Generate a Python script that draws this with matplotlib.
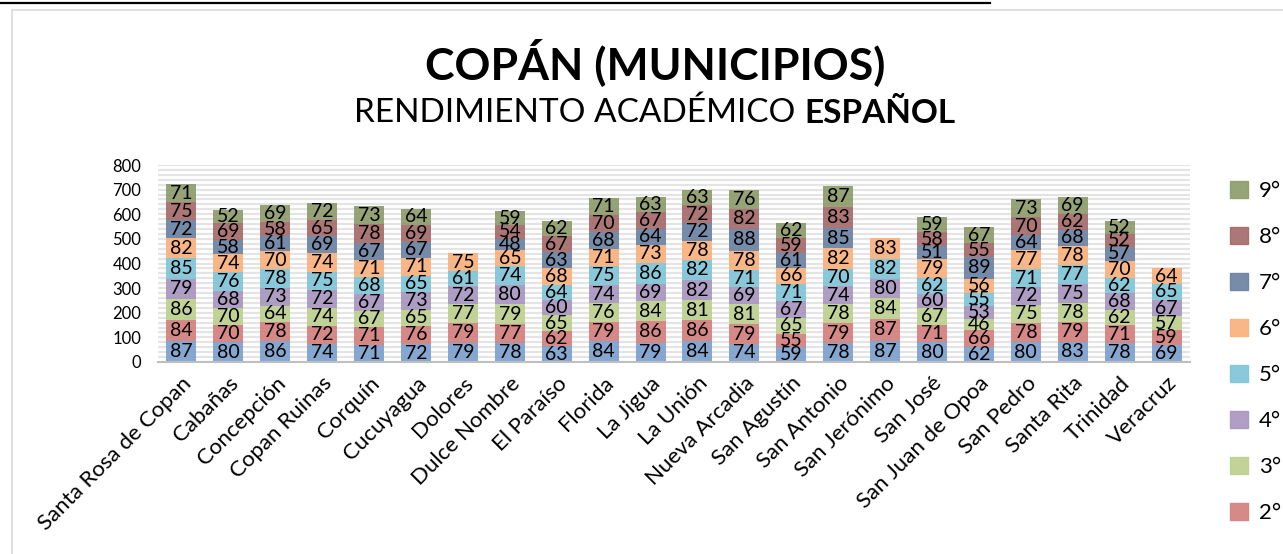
import numpy as np
import matplotlib
matplotlib.use("Agg")
import matplotlib.pyplot as plt
from matplotlib.patches import Rectangle
from matplotlib.lines import Line2D

plt.rcParams['font.family'] = ['Lato', 'DejaVu Sans']

# municipios
municipios = ["Santa Rosa de Copan", "Cabañas", "Concepción", "Copan Ruinas", "Corquín",
              "Cucuyagua", "Dolores", "Dulce Nombre", "El Paraíso", "Florida", "La Jigua",
              "La Unión", "Nueva Arcadia", "San Agustín", "San Antonio", "San Jerónimo",
              "San José", "San Juan de Opoa", "San Pedro", "Santa Rita", "Trinidad", "Veracruz"]

grados = ["1°", "2°", "3°", "4°", "5°", "6°", "7°", "8°", "9°"]

# values per grade (None = no data for that municipio)
g1 = [87, 80, 86, 74, 71, 72, 79, 78, 63, 84, 79, 84, 74, 59, 78, 87, 80, 62, 80, 83, 78, 69]
g2 = [84, 70, 78, 72, 71, 76, 79, 77, 62, 79, 86, 86, 79, 55, 79, 87, 71, 66, 78, 79, 71, 59]
g3 = [86, 70, 64, 74, 67, 65, 77, 79, 65, 76, 84, 81, 81, 65, 78, 84, 67, 46, 75, 78, 62, 57]
g4 = [79, 68, 73, 72, 67, 73, 72, 80, 60, 74, 69, 82, 69, 67, 74, 80, 60, 53, 72, 75, 68, 67]
g5 = [85, 76, 78, 75, 68, 65, 61, 74, 64, 75, 86, 82, 71, 71, 70, 82, 62, 55, 71, 77, 62, 65]
g6 = [82, 74, 70, 74, 71, 71, 75, 65, 68, 71, 73, 78, 78, 66, 82, 83, 79, 56, 77, 78, 70, 64]
g7 = [72, 58, 61, 69, 67, 67, None, 48, 63, 68, 64, 72, 88, 61, 85, None, 51, 89, 64, 68, 57, None]
g8 = [75, 69, 58, 65, 78, 69, None, 54, 67, 70, 67, 72, 82, 59, 83, None, 58, 55, 70, 62, 52, None]
g9 = [71, 52, 69, 72, 73, 64, None, 59, 62, 71, 63, 63, 76, 62, 87, None, 59, 67, 73, 69, 52, None]

series = [g1, g2, g3, g4, g5, g6, g7, g8, g9]
colores = ["#7BA0CD", "#D47F7E", "#BCD08D", "#A996C0", "#7FC5D8",
           "#F9B17D", "#6B82A2", "#A56B6B", "#8E9C6C"]

fig = plt.figure(figsize=(12.83, 5.54), dpi=100)
ax = fig.add_axes([158 / 1283, 1 - 362 / 554, (1190 - 158) / 1283, (362 - 165) / 554])

x = np.arange(len(municipios))
bottom = np.zeros(len(municipios))
handles = []
for vals, col, g in zip(series, colores, grados):
    v = np.array([0 if a is None else a for a in vals], dtype=float)
    ax.bar(x, v, 0.64, bottom=bottom, color=col, alpha=0.92, zorder=2, linewidth=0)
    for i, a in enumerate(vals):
        if a is not None:
            ax.text(x[i], bottom[i] + a / 2, str(a), ha='center', va='center',
                    fontsize=14, color='black', zorder=3)
    bottom += v
    handles.append(Rectangle((0, 0), 1, 1, color=col, alpha=0.92, label=g))

ax.set_xlim(-0.5, len(municipios) - 0.5)
ax.set_ylim(0, 800)
ax.set_yticks(np.arange(0, 801, 100))
ax.set_yticks(np.arange(0, 801, 20), minor=True)
ax.grid(axis='y', which='both', color='#E4E4E4', linewidth=1.6, zorder=0)
ax.set_axisbelow(True)
for s in ['top', 'right', 'left']:
    ax.spines[s].set_visible(False)
ax.spines['bottom'].set_color('#BFBFBF')
ax.spines['bottom'].set_linewidth(1.5)
ax.tick_params(axis='both', which='both', length=0)
ax.tick_params(axis='y', labelsize=12, pad=12)
ax.set_xticks(x)
ax.set_xticklabels(municipios, rotation=45, ha='right', va='top',
                   rotation_mode='anchor', fontsize=16)
ax.tick_params(axis='x', pad=8)

# titles
fig.text(655 / 1283, 1 - 62 / 554, "COPÁN (MUNICIPIOS)", ha='center', va='center',
         fontsize=32, fontweight='bold')
renderer = fig.canvas.get_renderer()
t1 = fig.text(0, 1 - 113 / 554, "RENDIMIENTO ACADÉMICO ", ha='left', va='center', fontsize=24)
t2 = fig.text(0, 1 - 113 / 554, "ESPAÑOL", ha='left', va='center', fontsize=24, fontweight='bold')
w1 = t1.get_window_extent(renderer).width
w2 = t2.get_window_extent(renderer).width
x0 = 655 - (w1 + w2) / 2
t1.set_x(x0 / 1283)
t2.set_x((x0 + w1) / 1283)

# legend, reversed; the 1° entry sits below the visible area in the source
fig.legend(handles=handles[1:][::-1], loc='upper left', bbox_to_anchor=(1230 / 1283, 1 - 181 / 554),
           frameon=False, fontsize=16, handlelength=0.8, handleheight=0.8,
           labelspacing=1.16, handletextpad=0.5, borderpad=0, borderaxespad=0)

# chart frame and top rule
fig.add_artist(Rectangle((12 / 1283, -0.1), 1.2, 1 - 10 / 554 + 0.1, transform=fig.transFigure,
                         fill=False, edgecolor='#D9D9D9', linewidth=1.2))
fig.add_artist(Line2D([0, 990 / 1283], [1 - 3 / 554, 1 - 3 / 554], transform=fig.transFigure,
                      color='black', linewidth=1.6))

fig.savefig("out.png", dpi=100)
